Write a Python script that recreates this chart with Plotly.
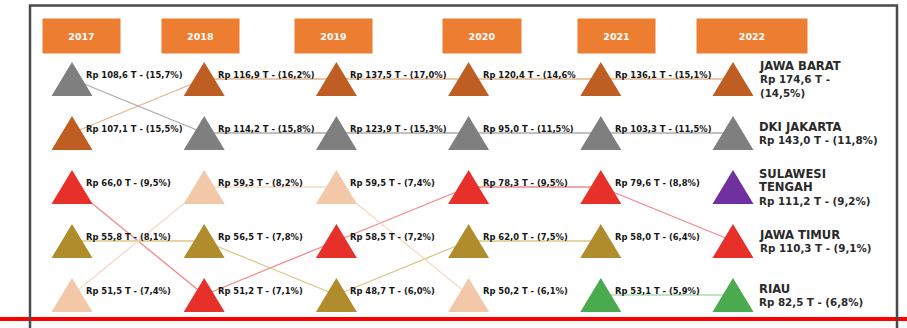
import plotly.graph_objects as go

# Realisasi investasi per provinsi, Rp triliun (None = di luar lima besar)
years = ["2017", "2018", "2019", "2020", "2021", "2022"]
provinces = ["JAWA BARAT", "DKI JAKARTA", "JAWA TIMUR", "BANTEN",
             "JAWA TENGAH", "RIAU", "SULAWESI TENGAH"]

jawa_barat = [107.1, 116.9, 137.5, 120.4, 136.1, 174.6]
dki_jakarta = [108.6, 114.2, 123.9, 95.0, 103.3, 143.0]
jawa_timur = [66.0, 51.2, 58.5, 78.3, 79.6, 110.3]
banten = [55.8, 56.5, 48.7, 62.0, 58.0, None]
jawa_tengah = [51.5, 59.3, 59.5, 50.2, None, None]
riau = [None, None, None, None, 53.1, 82.5]
sulawesi_tengah = [None, None, None, None, None, 111.2]

# Porsi terhadap total nasional, %
jawa_barat_pct = [15.5, 16.2, 17.0, 14.6, 15.1, 14.5]
dki_jakarta_pct = [15.7, 15.8, 15.3, 11.5, 11.5, 11.8]
jawa_timur_pct = [9.5, 7.1, 7.2, 9.5, 8.8, 9.1]
banten_pct = [8.1, 7.8, 6.0, 7.5, 6.4, None]
jawa_tengah_pct = [7.4, 8.2, 7.4, 6.1, None, None]
riau_pct = [None, None, None, None, 5.9, 6.8]
sulawesi_tengah_pct = [None, None, None, None, None, 9.2]

values = [jawa_barat, dki_jakarta, jawa_timur, banten, jawa_tengah, riau, sulawesi_tengah]
shares = [jawa_barat_pct, dki_jakarta_pct, jawa_timur_pct, banten_pct,
          jawa_tengah_pct, riau_pct, sulawesi_tengah_pct]

fill_colors = ["#BE5E22", "#7F7F7F", "#E8302A", "#B08C2C", "#F3C8A8", "#4AAA4E", "#7030A0"]
link_colors = ["#E2B48C", "#ABABAB", "#F2888A", "#D9C985", "#F5D9C4", "#A9DDB0", "#B79BD0"]

W, H = 907, 328
X0_PX, DX_PX = 72.0, 132.2      # first column centre, column spacing
Y0_PX, DY_PX = 79.0, 54.0       # first rank centre, rank spacing
x_min = -X0_PX / DX_PX
x_max = x_min + W / DX_PX
y_top = 1 - Y0_PX / DY_PX
y_bot = y_top + H / DY_PX

TRI_HW = 20.5 / DX_PX           # triangle half width (axis units)
TRI_HH = 17.0 / DY_PX           # triangle half height (axis units)

FONT = "DejaVu Sans"


def idr(v):
    return f"{v:.1f}".replace(".", ",")


# rank of each province within each year (1 = highest value)
ranks = [[None] * len(years) for _ in provinces]
for j in range(len(years)):
    present = [i for i in range(len(provinces)) if values[i][j] is not None]
    present.sort(key=lambda i: -values[i][j])
    for r, i in enumerate(present, start=1):
        ranks[i][j] = r

fig = go.Figure()

# connecting lines between consecutive years
for i in range(len(provinces)):
    for j in range(len(years) - 1):
        if ranks[i][j] is not None and ranks[i][j + 1] is not None:
            fig.add_trace(go.Scatter(
                x=[j, j + 1], y=[ranks[i][j], ranks[i][j + 1]],
                mode="lines", line=dict(color=link_colors[i], width=1.3),
                hoverinfo="skip"))

# triangle markers drawn as filled polygons around each (year, rank) point
for i, name in enumerate(provinces):
    xs, ys = [], []
    for j in range(len(years)):
        r = ranks[i][j]
        if r is None:
            continue
        xs += [j - TRI_HW, j + TRI_HW, j, j - TRI_HW, None]
        ys += [r + TRI_HH, r + TRI_HH, r - TRI_HH, r + TRI_HH, None]
    fig.add_trace(go.Scatter(
        x=xs, y=ys, mode="lines", fill="toself", fillcolor=fill_colors[i],
        line=dict(width=0, color=fill_colors[i]), name=name, hoverinfo="skip"))

annotations = []
last = len(years) - 1
for i, name in enumerate(provinces):
    for j in range(len(years)):
        r = ranks[i][j]
        if r is None:
            continue
        v, s = values[i][j], shares[i][j]
        if j < last:
            close = "" if (i == 0 and j == 3) else ")"
            annotations.append(dict(
                x=j, y=r, xref="x", yref="y", xanchor="left", yanchor="middle",
                xshift=12, yshift=4, showarrow=False,
                text=f"<b>Rp {idr(v)} T - ({idr(s)}%{close}</b>",
                font=dict(family=FONT, size=8.4, color="#151515")))
        else:
            shown = name.replace(" ", "<br>") if name == "SULAWESI TENGAH" else name
            shown = "<br>".join(
                f"<span style='font-size:11.6px'>{part}</span>" for part in shown.split("<br>"))
            value_line = f"Rp {idr(v)} T - ({idr(s)}%)"
            if name == "JAWA BARAT":
                value_line = f"Rp {idr(v)} T -<br>({idr(s)}%)"
            annotations.append(dict(
                x=j, y=r, xref="x", yref="y", xanchor="left", yanchor="middle",
                xshift=24, showarrow=False, align="left",
                text=f"<b>{shown}<br>{value_line}</b>",
                font=dict(family=FONT, size=10.3, color="#2A2A2A")))

# year header boxes
box_shift = [9, -4, -3, 13, 16, 19]
box_width = [77, 77, 77, 78, 77, 110]
for j, yr in enumerate(years):
    annotations.append(dict(
        x=j, y=1 - 36 / H, xref="x", yref="paper", xanchor="center", yanchor="middle",
        xshift=box_shift[j], showarrow=False, text=f"<b>{yr}</b>",
        width=box_width[j], height=34, bgcolor="#ED7D31", borderpad=0,
        font=dict(family=FONT, size=9.5, color="#FFFFFF")))

shapes = [
    # red rule near the bottom
    dict(type="line", xref="paper", yref="paper", x0=0, x1=1,
         y0=1 - 319 / H, y1=1 - 319 / H, line=dict(color="#FF0000", width=4),
         layer="above"),
    # outer frame
    dict(type="rect", xref="paper", yref="paper", x0=30 / W, x1=897 / W,
         y0=-0.2, y1=1 - 5.5 / H, line=dict(color="#4A4A4A", width=2.5),
         layer="above"),
]

fig.update_layout(
    width=W, height=H, margin=dict(l=0, r=0, t=0, b=0),
    paper_bgcolor="white", plot_bgcolor="white", showlegend=False,
    xaxis=dict(range=[x_min, x_max], visible=False, fixedrange=True),
    yaxis=dict(range=[y_bot, y_top], visible=False, fixedrange=True),
    annotations=annotations, shapes=shapes,
)

fig.write_html("out.html")
